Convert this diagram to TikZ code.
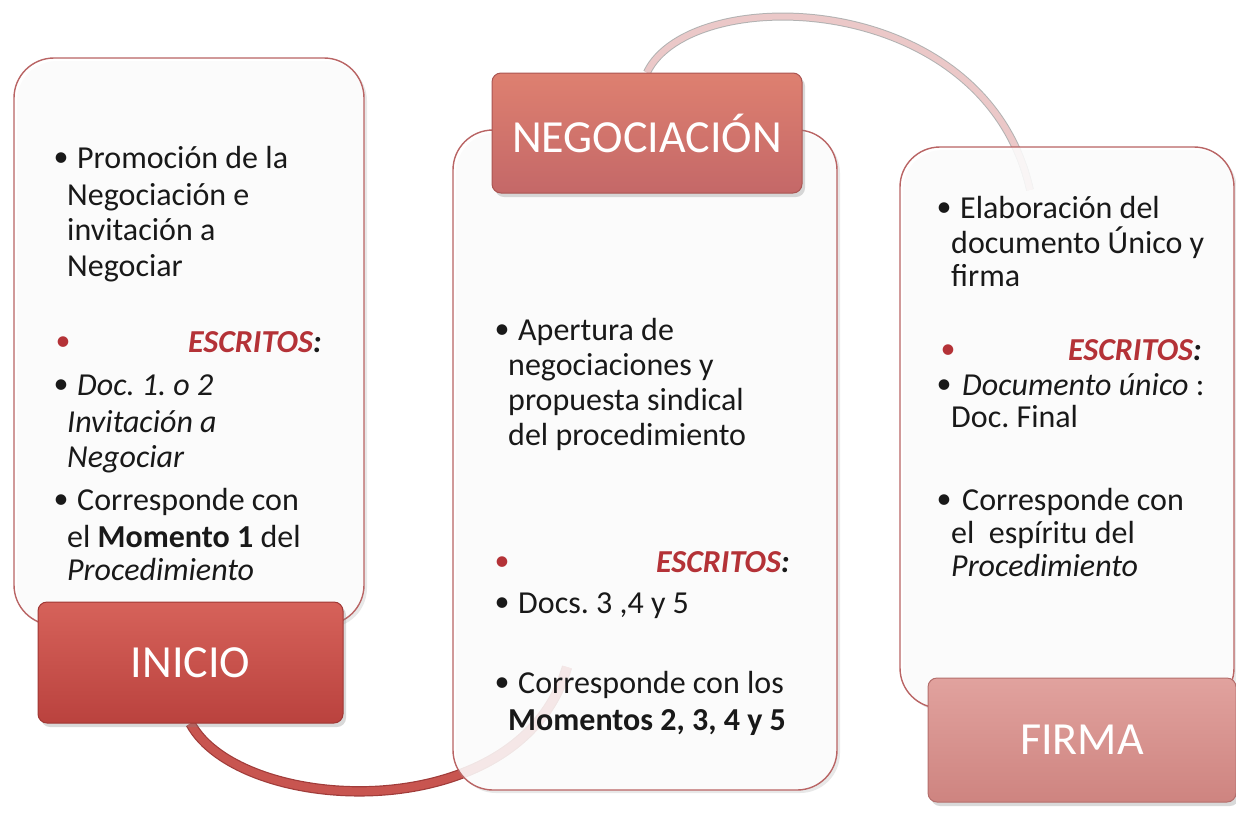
\documentclass[tikz,border=0pt]{standalone}
\usepackage{fontspec}
\setmainfont{Carlito}
\usetikzlibrary{shadows}
\definecolor{escr}{RGB}{180,50,55}
\definecolor{textc}{RGB}{25,25,25}
\definecolor{panelline}{RGB}{185,100,100}
\definecolor{arcred}{RGB}{200,85,80}
\definecolor{arcdark}{RGB}{160,60,58}
\definecolor{arcpink}{RGB}{235,200,200}
\definecolor{iniT}{RGB}{214,98,90}
\definecolor{iniB}{RGB}{186,66,62}
\definecolor{iniL}{RGB}{160,55,52}
\definecolor{negT}{RGB}{222,128,112}
\definecolor{negB}{RGB}{196,104,104}
\definecolor{negL}{RGB}{170,85,82}
\definecolor{firT}{RGB}{225,162,158}
\definecolor{firB}{RGB}{206,132,128}
\definecolor{firL}{RGB}{180,110,108}
\pgfdeclarelayer{bg}
\pgfsetlayers{bg,main}
\frenchspacing
\begin{document}
\begin{tikzpicture}[x=1pt,y=-1pt,
  panel/.style={draw=panelline, line width=1.4pt, rounded corners=40pt, fill=white, fill opacity=0.86,
    drop shadow={opacity=0.18, shadow xshift=3pt, shadow yshift=-3pt}},
  tx/.style={anchor=base west, inner sep=0pt, font=\fontsize{32}{36}\selectfont, text=textc},
  bul/.style={anchor=center, inner sep=0pt, font=\fontsize{30}{36}\selectfont, text=textc},
  rbul/.style={bul, text=escr},
  esc/.style={anchor=base east, inner sep=0pt, font=\fontsize{32}{36}\selectfont\bfseries\itshape, text=textc},
  hdr/.style={rounded corners=9pt, line width=1pt, text=white, font=\fontsize{46}{50}\selectfont,
    drop shadow={opacity=0.3, shadow xshift=3pt, shadow yshift=-4pt},
    append after command={
      \pgfextra{\draw[white, draw opacity=0.22, line width=5pt, rounded corners=6pt]
        ([shift={(9pt,-9pt)}]\tikzlastnode.north west) rectangle ([shift={(-9pt,9pt)}]\tikzlastnode.south east);}}},
  arcb/.style={draw=arcdark, double=arcred, double distance=8pt, line width=1.2pt},
  arct/.style={draw=black!30, double=arcpink, double distance=6pt, line width=1pt}]
\useasboundingbox (0,0) rectangle (1236,812);

% panels
\node[panel, minimum width=350pt, minimum height=567pt] (p1) at (189,341.5) {};
\node[panel, minimum width=384pt, minimum height=660pt] (p2) at (645,460) {};
\node[panel, minimum width=334pt, minimum height=561pt] (p3) at (1067,427.5) {};

% headers
\node[hdr, draw=iniL, top color=iniT, bottom color=iniB, minimum width=305pt, minimum height=121pt] (inicio) at (190.5,662.5) {INICIO};
\node[hdr, draw=negL, top color=negT, bottom color=negB, minimum width=310pt, minimum height=120pt] (negoc) at (647,133) {NEGOCIACIÓN};
\node[hdr, draw=firL, top color=firT, bottom color=firB, minimum width=308pt, minimum height=124pt] (firma) at (1082,740) {FIRMA};

% connectors (behind panels)
\coordinate (endb) at (567,667);
\coordinate (endt) at (1030,190);
\begin{pgfonlayer}{bg}
\draw[arcb] (inicio.south) .. controls (240,815) and (520,830) .. (endb);
\draw[arct] (negoc.north) .. controls (690,-18) and (985,-12) .. (endt);
\end{pgfonlayer}

% left panel text
\node[bul] (lb1) at (61,160) {•};
\node[tx] (l1) at (77,168) {Promoción de la};
\node[tx] (l2) at (67,205) {Negociación e};
\node[tx] (l3) at (67,240) {invitación a};
\node[tx] (l4) at (67,276) {Negociar};
\node[rbul] (lb2) at (63,344) {•};
\node[esc] (l5) at (322,352) {\textcolor{escr}{ESCRITOS}:};
\node[bul] (lb3) at (61,387) {•};
\node[tx] (l6) at (77,395) {\textit{Doc. 1. o 2}};
\node[tx] (l7) at (67,432) {\textit{Invitación a}};
\node[tx] (l8) at (67,467) {\textit{Negociar}};
\node[bul] (lb4) at (61,502) {•};
\node[tx] (l9) at (77,510) {Corresponde con};
\node[tx] (l10) at (67,547) {el \textbf{Momento 1} del};
\node[tx] (l11) at (67,580) {\textit{Procedimiento}};

% middle panel text
\node[bul] (mb1) at (502,332) {•};
\node[tx] (m1) at (518,340) {Apertura de};
\node[tx] (m2) at (508,375) {negociaciones y};
\node[tx] (m3) at (508,410) {propuesta sindical};
\node[tx] (m4) at (508,445) {del procedimiento};
\node[rbul] (mb2) at (502,564) {•};
\node[esc] (m5) at (790,572) {\textcolor{escr}{ESCRITOS}:};
\node[bul] (mb3) at (502,605) {•};
\node[tx] (m6) at (518,613) {Docs. 3 ,4 y 5};
\node[bul] (mb4) at (502,685) {•};
\node[tx] (m7) at (518,693) {Corresponde con los};
\node[tx] (m8) at (508,730) {\textbf{Momentos 2, 3, 4 y 5}};

% right panel text
\node[bul] (rb1) at (944,210) {•};
\node[tx] (r1) at (960,218) {Elaboración del};
\node[tx] (r2) at (951,253) {documento Único y};
\node[tx] (r3) at (951,286) {firma};
\node[rbul] (rb2) at (948,352) {•};
\node[esc] (r4) at (1202,360) {\textcolor{escr}{ESCRITOS}:};
\node[bul] (rb3) at (944,387) {•};
\node[tx] (r5) at (962,395) {\textit{Documento único} :};
\node[tx] (r6) at (951,427) {Doc. Final};
\node[bul] (rb4) at (944,502) {•};
\node[tx] (r7) at (962,510) {Corresponde con};
\node[tx] (r8) at (951,543) {el\ \ espíritu del};
\node[tx] (r9) at (951,576) {\textit{Procedimiento}};
\end{tikzpicture}
\end{document}
